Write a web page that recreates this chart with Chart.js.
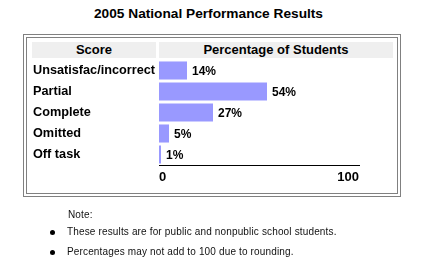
<!DOCTYPE html>
<html>
<head>
<meta charset="utf-8">
<script src="https://cdn.jsdelivr.net/npm/chart.js@4/dist/chart.umd.min.js"></script>
<style>
  body { margin: 0; background: #fff; font-family: Arial, "Liberation Sans", sans-serif; }
  #wrap { position: relative; width: 432px; height: 273px; overflow: hidden; }
  .abs { position: absolute; }
  #title { left: 0; width: 417px; top: 6px; text-align: center; font-weight: bold; font-size: 13.7px; color: #000; }
  #frameOut { left: 23px; top: 34px; width: 376px; height: 161px; border: 1px solid #808080; }
  #frameIn { left: 26px; top: 37px; width: 370px; height: 155px; border: 1px solid #808080; }
  .head { top: 42px; height: 16px; line-height: 16px; background: #efefef; text-align: center; font-weight: bold; font-size: 13px; color: #000; }
  #chart { left: 0; top: 0; }
  .note { font-size: 10px; color: #111; letter-spacing: 0.15px; }
  .dot { width: 5px; height: 5px; border-radius: 50%; background: #000; }
</style>
</head>
<body>
<div id="wrap">
  <div id="title" class="abs">2005 National Performance Results</div>
  <div id="frameOut" class="abs"></div>
  <div id="frameIn" class="abs"></div>
  <div class="abs head" style="left:32px;width:124px;">Score</div>
  <div class="abs head" style="left:159px;width:234px;">Percentage of Students</div>
  <canvas id="chart" class="abs" width="432" height="273"></canvas>
  <div class="abs note" style="left:68px;top:209px;">Note:</div>
  <div class="abs dot" style="left:50px;top:230px;"></div>
  <div class="abs note" style="left:67px;top:226px;">These results are for public and nonpublic school students.</div>
  <div class="abs dot" style="left:50px;top:250px;"></div>
  <div class="abs note" style="left:67px;top:246px;">Percentages may not add to 100 due to rounding.</div>
</div>
<script>
// data
var scoreLabels = ['Unsatisfac/incorrect', 'Partial', 'Complete', 'Omitted', 'Off task'];
var percentValues = [14, 54, 27, 5, 1];
var axisTicks = [0, 100];

// 棒の右に%を書く
var valueLabels = {
  id: 'valueLabels',
  afterDatasetsDraw: function(chart) {
    var ctx = chart.ctx;
    var meta = chart.getDatasetMeta(0);
    ctx.save();
    ctx.font = 'bold 12px Arial, "Liberation Sans", sans-serif';
    ctx.fillStyle = '#000';
    ctx.textAlign = 'left';
    ctx.textBaseline = 'middle';
    meta.data.forEach(function(bar, i) {
      ctx.fillText(percentValues[i] + '%', bar.x + 5, bar.y + 1);
    });
    ctx.restore();
  }
};

var ctx = document.getElementById('chart').getContext('2d');
var myChart = new Chart(ctx, {
  type: 'bar',
  data: {
    labels: scoreLabels,
    datasets: [{
      data: percentValues,
      backgroundColor: '#9999ff',
      borderWidth: 0,
      barPercentage: 0.86,
      categoryPercentage: 1.0
    }]
  },
  options: {
    indexAxis: 'y',
    responsive: false,
    animation: false,
    devicePixelRatio: 1,
    layout: { padding: { left: 33, top: 60, right: 73, bottom: 78 } },
    plugins: { legend: { display: false }, tooltip: { enabled: false } },
    scales: {
      x: {
        min: axisTicks[0],
        max: axisTicks[1],
        grid: { display: false, drawTicks: false },
        border: { display: true, color: '#000', width: 1 },
        afterBuildTicks: function(axis) {
          axis.ticks = axisTicks.map(function(v) { return { value: v }; });
        },
        afterFit: function(axis) { axis.height = 30; },
        ticks: {
          align: 'inner',
          padding: 5,
          color: '#000',
          font: { family: 'Arial, "Liberation Sans", sans-serif', size: 13, weight: 'bold' }
        }
      },
      y: {
        grid: { display: false, drawTicks: false },
        border: { display: false },
        afterFit: function(axis) { axis.width = 126; },
        ticks: {
          crossAlign: 'far',
          color: '#000',
          font: { family: 'Arial, "Liberation Sans", sans-serif', size: 12.7, weight: 'bold' }
        }
      }
    }
  },
  plugins: [valueLabels]
});
</script>
</body>
</html>
